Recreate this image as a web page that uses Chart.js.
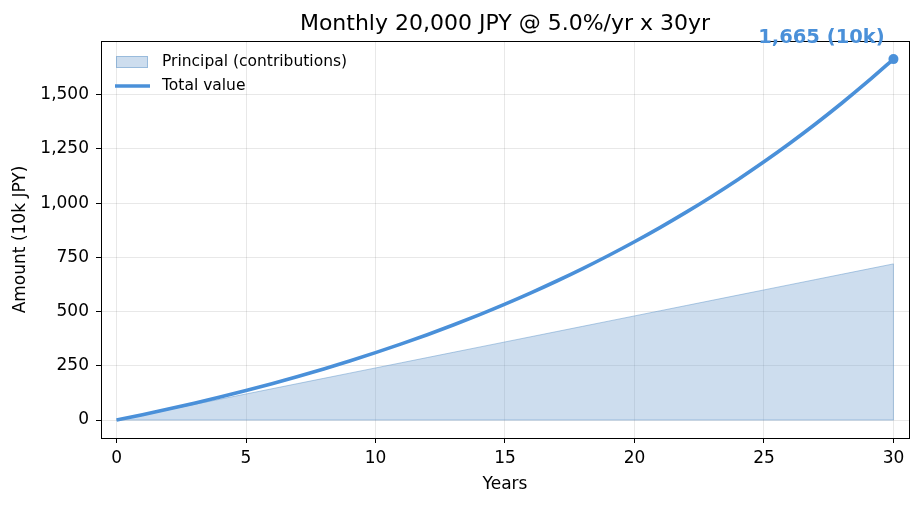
<!DOCTYPE html>
<html>
<head>
<meta charset="utf-8">
<script src="https://cdn.jsdelivr.net/npm/chart.js@4.4.1/dist/chart.umd.min.js"></script>
<style>
  html, body { margin: 0; padding: 0; background: #fff; }
  #wrap { width: 923px; height: 507px; }
</style>
</head>
<body>
<div id="wrap"><canvas id="chart" width="923" height="507"></canvas></div>
<script>
// data (units: 10k JPY)
var years = [0,1,2,3,4,5,6,7,8,9,10,11,12,13,14,15,16,17,18,19,20,21,22,23,24,25,26,27,28,29,30];
var principal = [0,24,48,72,96,120,144,168,192,216,240,264,288,312,336,360,384,408,432,456,480,504,528,552,576,600,624,648,672,696,720];
var totalValue = [0,24.6,50.4,77.5,106.0,136.0,167.5,200.7,235.5,272.1,310.6,351.0,393.5,438.2,485.2,534.6,586.5,641.1,698.4,758.7,822.1,888.7,958.7,1032.3,1109.7,1191.0,1276.5,1366.4,1460.9,1560.1,1664.5];
var xTicks = [0,5,10,15,20,25,30];
var yTicks = [0,250,500,750,1000,1250,1500];
var chartTitle = "Monthly 20,000 JPY @ 5.0%/yr x 30yr";
var endLabel = "1,665 (10k)";

var FONT = "'DejaVu Sans', sans-serif";
var lineColor = "#4a90d9";
var fillColor = "rgba(102,153,204,0.33)";
var fillEdge = "rgba(102,153,204,0.5)";

function pts(ys) {
    return years.map(function (x, i) { return { x: x, y: ys[i] }; });
}

var extras = {
    id: 'extras',
    afterDatasetsDraw: function (chart) {
        // right edge of the principal area
        var ctx = chart.ctx, xs = chart.scales.x, ys = chart.scales.y;
        var n = years.length - 1;
        var px = xs.getPixelForValue(years[n]);
        ctx.save();
        ctx.strokeStyle = fillEdge;
        ctx.lineWidth = 1;
        ctx.beginPath();
        ctx.moveTo(px, ys.getPixelForValue(principal[n]));
        ctx.lineTo(px, ys.getPixelForValue(0));
        ctx.lineTo(xs.getPixelForValue(years[0]), ys.getPixelForValue(0));
        ctx.stroke();
        ctx.restore();
    },
    afterDraw: function (chart) {
        var ctx = chart.ctx, a = chart.chartArea;
        ctx.save();
        // frame
        ctx.strokeStyle = '#000';
        ctx.lineWidth = 1;
        ctx.strokeRect(Math.round(a.left) + 0.5, Math.round(a.top) + 0.5,
            Math.round(a.right - a.left), Math.round(a.bottom - a.top));
        // title
        ctx.fillStyle = '#000';
        ctx.font = "22px " + FONT;
        ctx.textAlign = 'center';
        ctx.textBaseline = 'alphabetic';
        ctx.fillText(chartTitle, (a.left + a.right) / 2, 30);
        // legend
        ctx.font = "15.5px " + FONT;
        ctx.textAlign = 'left';
        ctx.textBaseline = 'middle';
        ctx.fillStyle = fillColor;
        ctx.fillRect(116, 56, 32, 12);
        ctx.strokeStyle = fillEdge;
        ctx.strokeRect(116.5, 56.5, 31, 11);
        ctx.fillStyle = '#000';
        ctx.fillText('Principal (contributions)', 162, 62);
        ctx.strokeStyle = lineColor;
        ctx.lineWidth = 3.5;
        ctx.beginPath();
        ctx.moveTo(115, 86);
        ctx.lineTo(150, 86);
        ctx.stroke();
        ctx.fillText('Total value', 162, 86);
        // end label
        var xs = chart.scales.x, ys = chart.scales.y;
        var n = years.length - 1;
        var px = xs.getPixelForValue(years[n]), py = ys.getPixelForValue(totalValue[n]);
        ctx.font = "bold 19.5px " + FONT;
        ctx.textAlign = 'center';
        ctx.textBaseline = 'middle';
        ctx.fillStyle = lineColor;
        ctx.fillText(endLabel, px - 72, py - 21);
        ctx.restore();
    }
};

new Chart(document.getElementById('chart'), {
    type: 'line',
    data: {
        datasets: [
            {
                label: 'Total value',
                data: pts(totalValue),
                borderColor: lineColor,
                borderWidth: 3.6,
                cubicInterpolationMode: 'monotone',
                fill: false,
                pointRadius: function (c) { return c.dataIndex === years.length - 1 ? 5 : 0; },
                pointBackgroundColor: lineColor,
                pointBorderWidth: 0,
                order: 1
            },
            {
                label: 'Principal (contributions)',
                data: pts(principal),
                borderColor: fillEdge,
                borderWidth: 1,
                backgroundColor: fillColor,
                fill: 'origin',
                pointRadius: 0,
                order: 2
            }
        ]
    },
    options: {
        responsive: false,
        animation: false,
        layout: { padding: { top: 41, right: 14, left: 0, bottom: 0 } },
        plugins: {
            legend: { display: false },
            title: { display: false },
            tooltip: { enabled: false }
        },
        scales: {
            x: {
                type: 'linear',
                min: -0.6,
                max: 30.6,
                afterBuildTicks: function (s) { s.ticks = xTicks.map(function (v) { return { value: v }; }); },
                afterFit: function (s) { s.height = 69; },
                ticks: { color: '#000', font: { family: FONT, size: 17 }, padding: 5, maxRotation: 0 },
                grid: { color: 'rgba(0,0,0,0.09)', tickColor: '#000', tickLength: 5 },
                border: { display: false },
                title: { display: true, text: 'Years', color: '#000', font: { family: FONT, size: 17 }, padding: { top: 0, bottom: 12 } }
            },
            y: {
                type: 'linear',
                min: -83,
                max: 1748,
                afterBuildTicks: function (s) { s.ticks = yTicks.map(function (v) { return { value: v }; }); },
                afterFit: function (s) { s.width = 101; },
                ticks: {
                    color: '#000', font: { family: FONT, size: 17 }, padding: 7,
                    callback: function (v) { return v.toLocaleString('en-US'); }
                },
                grid: { color: 'rgba(0,0,0,0.09)', tickColor: '#000', tickLength: 5 },
                border: { display: false },
                title: { display: true, text: 'Amount (10k JPY)', color: '#000', font: { family: FONT, size: 17 }, padding: { top: 10, bottom: 0 } }
            }
        }
    },
    plugins: [extras]
});
</script>
</body>
</html>
